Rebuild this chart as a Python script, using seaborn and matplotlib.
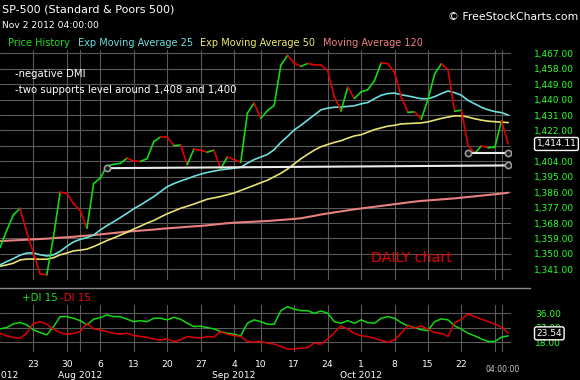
import matplotlib
matplotlib.use("Agg")
import matplotlib.pyplot as plt
import matplotlib.transforms as mtransforms
from matplotlib.collections import LineCollection
from matplotlib.lines import Line2D
import seaborn as sns
import numpy as np
import pandas as pd

# trading days shown on the chart (Oct 29-30 closed)
dates = [
    "2012-07-16", "2012-07-17", "2012-07-18", "2012-07-19", "2012-07-20",
    "2012-07-23", "2012-07-24", "2012-07-25", "2012-07-26", "2012-07-27",
    "2012-07-30", "2012-07-31", "2012-08-01", "2012-08-02", "2012-08-03",
    "2012-08-06", "2012-08-07", "2012-08-08", "2012-08-09", "2012-08-10",
    "2012-08-13", "2012-08-14", "2012-08-15", "2012-08-16", "2012-08-17",
    "2012-08-20", "2012-08-21", "2012-08-22", "2012-08-23", "2012-08-24",
    "2012-08-27", "2012-08-28", "2012-08-29", "2012-08-30", "2012-08-31",
    "2012-09-04", "2012-09-05", "2012-09-06", "2012-09-07",
    "2012-09-10", "2012-09-11", "2012-09-12", "2012-09-13", "2012-09-14",
    "2012-09-17", "2012-09-18", "2012-09-19", "2012-09-20", "2012-09-21",
    "2012-09-24", "2012-09-25", "2012-09-26", "2012-09-27", "2012-09-28",
    "2012-10-01", "2012-10-02", "2012-10-03", "2012-10-04", "2012-10-05",
    "2012-10-08", "2012-10-09", "2012-10-10", "2012-10-11", "2012-10-12",
    "2012-10-15", "2012-10-16", "2012-10-17", "2012-10-18", "2012-10-19",
    "2012-10-22", "2012-10-23", "2012-10-24", "2012-10-25", "2012-10-26",
    "2012-10-31", "2012-11-01", "2012-11-02",
]

close = [
    1353.64, 1363.67, 1372.78, 1376.51, 1362.66, 1350.52, 1338.31, 1337.89, 1360.02, 1385.97,
    1385.30, 1379.32, 1375.32, 1365.00, 1390.99, 1394.23, 1401.35, 1402.22, 1402.80, 1405.87,
    1404.11, 1403.93, 1405.53, 1415.51, 1418.16, 1418.13, 1413.17, 1413.49, 1402.08, 1411.13,
    1410.44, 1409.30, 1410.49, 1399.48, 1406.58, 1404.94, 1403.44, 1432.12, 1437.92, 1429.08,
    1433.56, 1436.56, 1459.99, 1465.77, 1461.19, 1459.32, 1461.05, 1460.26, 1460.15, 1456.89,
    1441.59, 1433.32, 1447.15, 1440.67, 1444.49, 1445.75, 1450.99, 1461.40, 1460.93, 1455.88,
    1441.48, 1432.56, 1432.84, 1428.59, 1440.13, 1454.92, 1460.91, 1457.34, 1433.19, 1433.82,
    1413.11, 1408.75, 1412.97, 1411.94, 1412.16, 1427.59, 1414.11,
]

ema25 = [
    1343.6, 1345.5, 1347.3, 1349.3, 1350.5, 1350.6, 1349.5, 1348.8, 1349.5, 1351.5,
    1354.5, 1357.0, 1358.5, 1359.5, 1361.0, 1364.0, 1366.5, 1368.8, 1371.2, 1373.7,
    1376.3, 1378.5, 1381.0, 1383.4, 1386.3, 1389.2, 1391.0, 1392.5, 1393.8, 1395.3,
    1396.5, 1397.5, 1398.3, 1399.0, 1399.5, 1400.0, 1400.5, 1402.9, 1405.0, 1406.5,
    1408.0, 1410.8, 1415.0, 1418.5, 1422.3, 1425.0, 1428.0, 1431.0, 1434.0, 1435.0,
    1435.5, 1435.7, 1436.0, 1436.4, 1437.5, 1438.3, 1440.5, 1442.5, 1443.5, 1443.8,
    1442.8, 1442.1, 1441.3, 1440.5, 1440.5, 1441.7, 1443.5, 1445.0, 1444.0, 1442.5,
    1439.5, 1437.5, 1435.5, 1434.0, 1433.0, 1432.4, 1431.0,
]

ema50 = [
    1342.8, 1343.6, 1344.6, 1346.5, 1347.0, 1347.0, 1346.9, 1346.9, 1347.8, 1349.5,
    1350.5, 1351.8, 1352.2, 1352.8, 1354.3, 1356.0, 1357.8, 1359.3, 1361.0, 1362.6,
    1364.5, 1366.2, 1368.0, 1369.5, 1371.5, 1373.4, 1375.0, 1376.6, 1377.8, 1379.1,
    1380.5, 1381.9, 1382.7, 1383.5, 1384.5, 1385.5, 1387.0, 1388.5, 1390.0, 1391.5,
    1393.0, 1395.0, 1397.0, 1399.5, 1402.5, 1405.5, 1408.0, 1410.5, 1412.5, 1413.8,
    1415.0, 1416.0, 1417.5, 1418.8, 1419.5, 1421.0, 1422.5, 1423.5, 1424.5, 1425.0,
    1425.8, 1426.0, 1426.2, 1426.4, 1427.0, 1428.0, 1429.0, 1429.8, 1430.5, 1430.5,
    1429.8, 1428.8, 1428.0, 1427.4, 1427.1, 1426.8, 1426.6,
]

ma120 = [
    1357.5, 1357.7, 1357.9, 1358.1, 1358.3, 1358.5, 1358.7, 1358.9, 1359.2, 1359.5,
    1359.7, 1360.0, 1360.4, 1360.7, 1361.0, 1361.4, 1361.8, 1362.2, 1362.6, 1363.0,
    1363.3, 1363.6, 1363.9, 1364.2, 1364.6, 1364.9, 1365.2, 1365.5, 1365.8, 1366.1,
    1366.3, 1366.7, 1367.1, 1367.5, 1367.9, 1368.2, 1368.4, 1368.6, 1368.8, 1369.0,
    1369.2, 1369.5, 1369.8, 1370.1, 1370.4, 1370.8, 1371.5, 1372.2, 1373.0, 1373.6,
    1374.2, 1374.8, 1375.4, 1376.0, 1376.5, 1377.0, 1377.5, 1378.0, 1378.5, 1379.0,
    1379.5, 1380.0, 1380.5, 1380.9, 1381.2, 1381.5, 1381.8, 1382.1, 1382.4, 1382.8,
    1383.2, 1383.6, 1384.0, 1384.4, 1384.8, 1385.2, 1385.7,
]

di_plus = [
    26.3, 27.1, 29.4, 30.2, 28.8, 25.7, 24.0, 22.6, 27.7, 33.9,
    33.9, 32.9, 31.4, 28.8, 32.3, 33.3, 35.0, 33.9, 33.9, 32.3,
    30.8, 31.4, 30.8, 32.9, 32.9, 31.9, 33.5, 32.3, 29.8, 27.7,
    28.0, 27.1, 26.3, 24.6, 23.6, 23.0, 22.0, 29.8, 31.9, 30.8,
    29.2, 29.2, 37.6, 40.1, 38.5, 37.6, 37.6, 36.0, 37.4, 36.0,
    30.8, 29.8, 31.4, 29.8, 31.9, 30.2, 29.8, 32.9, 33.9, 32.9,
    30.2, 28.2, 27.1, 25.7, 25.3, 30.8, 32.5, 31.9, 28.2, 26.1,
    23.6, 22.0, 20.1, 18.5, 18.5, 21.2, 22.0,
]

di_minus = [
    23.6, 22.0, 21.0, 20.6, 23.6, 29.8, 30.8, 29.2, 26.1, 24.0,
    23.0, 23.6, 24.6, 29.8, 26.3, 25.7, 24.6, 23.6, 23.0, 23.6,
    22.2, 21.6, 21.0, 20.0, 19.5, 20.1, 18.5, 19.5, 21.6, 21.0,
    20.6, 21.6, 21.3, 24.6, 23.0, 22.2, 21.6, 18.5, 18.2, 18.5,
    17.5, 16.9, 15.4, 13.8, 13.8, 14.3, 14.8, 17.5, 16.9, 20.0,
    24.0, 28.2, 26.1, 23.6, 22.0, 21.6, 20.6, 19.1, 18.1, 19.5,
    23.6, 28.2, 26.7, 28.2, 26.1, 24.0, 23.6, 21.6, 30.2, 32.3,
    35.6, 33.9, 32.3, 30.8, 29.2, 27.4, 23.54,
]

# drawn support lines
support_long_dates = ["2012-08-07", "2012-11-02"]
support_long = [1400.0, 1401.6]
support_short_dates = ["2012-10-23", "2012-11-02"]
support_short = [1409.0, 1409.0]

price_ticks = [1341, 1350, 1359, 1368, 1377, 1386, 1395, 1404, 1413, 1422, 1431, 1440, 1449, 1458, 1467]
di_ticks = [18, 27, 36]

grid_dates = ["2012-07-23", "2012-07-30", "2012-08-01", "2012-08-06", "2012-08-13", "2012-08-20",
              "2012-08-27", "2012-09-04", "2012-09-10", "2012-09-17", "2012-09-24", "2012-10-01",
              "2012-10-08", "2012-10-15", "2012-10-22", "2012-10-31", "2012-11-01"]
grid_labels = ["23", "30", "", "6", "13", "20", "27", "4", "10", "17", "24", "1", "8", "15", "22", "", ""]
month_dates = ["2012-07-16", "2012-08-01", "2012-09-04", "2012-10-01"]
month_labels = ["Jul 2012", "Aug 2012", "Sep 2012", "Oct 2012"]

df = pd.DataFrame({"date": dates, "close": close, "ema25": ema25, "ema50": ema50,
                   "ma120": ma120, "di_plus": di_plus, "di_minus": di_minus})
df["i"] = np.arange(len(df))
pos = {d: i for i, d in enumerate(dates)}

GREEN = "#14d814"
RED = "#e00000"
CYAN = "#6edede"
YELLOW = "#e8e274"
SALMON = "#e88080"
LABEL_GREEN = "#2bff2b"
GRID = "#5a5a5a"

sns.set_theme(style="dark", rc={"axes.facecolor": "black", "figure.facecolor": "black"})
plt.rcParams["font.family"] = ["DejaVu Sans"]

W, H = 580, 380
PT = 72 / 100  # points per pixel at dpi 100
fig = plt.figure(figsize=(W / 100, H / 100), dpi=100, facecolor="black")


def fx(x):
    return x / W


def fy(y):
    return 1 - y / H


ax = fig.add_axes([0, fy(280), fx(511), 230 / H])
ax2 = fig.add_axes([0, fy(352), fx(511), 47 / H])

grid_idx = [pos[d] for d in grid_dates]

for a in (ax, ax2):
    a.set_facecolor("black")
    for s in a.spines.values():
        s.set_visible(False)
    a.set_xlim(0.0, 76.42)
    a.set_xticks(grid_idx)
    a.grid(True, color=GRID, lw=0.8)
    a.tick_params(axis="both", length=0)
    a.yaxis.tick_right()

# ---- price panel ----
sns.lineplot(data=df, x="i", y="ma120", ax=ax, color=SALMON, lw=1.5, legend=False)
sns.lineplot(data=df, x="i", y="ema50", ax=ax, color=YELLOW, lw=1.2, legend=False)
sns.lineplot(data=df, x="i", y="ema25", ax=ax, color=CYAN, lw=1.2, legend=False)

xs = df["i"].to_numpy(dtype=float)
ys = df["close"].to_numpy()
segs = np.stack([np.column_stack([xs[:-1], ys[:-1]]), np.column_stack([xs[1:], ys[1:]])], axis=1)
seg_colors = np.where(np.diff(ys) >= 0, GREEN, RED)
ax.add_collection(LineCollection(segs, colors=seg_colors, linewidths=1.2, capstyle="round", zorder=3))

for sd, sv in ((support_long_dates, support_long), (support_short_dates, support_short)):
    ax.plot([pos[d] for d in sd], sv, color="#ececec", lw=1.5, zorder=4,
            marker="o", markersize=4.5, markerfacecolor="#1a1a1a", markeredgecolor="#9a9a9a",
            markeredgewidth=1.2)

ax.set_ylim(1334.8, 1468.9)
ax.set_yticks(price_ticks)
# 1,413.00 sits under the last-price tag
ax.set_yticklabels(["" if v == 1413 else f"{v:,.2f}" for v in price_ticks])
ax.tick_params(axis="y", labelright=True, labelleft=False, pad=23 * PT, labelcolor=LABEL_GREEN, labelsize=6.5)
ax.set_xticklabels([])
ax.set_xlabel("")
ax.set_ylabel("")

trans = mtransforms.blended_transform_factory(ax.transAxes, ax.transData)
ax.text(536.5 / 511, close[-1], f"{close[-1]:,.2f}", transform=trans, ha="left", va="center",
        color="white", fontsize=6.5, clip_on=False, zorder=6,
        bbox=dict(boxstyle="round,pad=0.22", fc="black", ec="white", lw=1.0))

fig.text(fx(411), fy(258), "DAILY chart", color="#e80000", fontsize=10.3, ha="center", va="center")

# ---- DI panel ----
sns.lineplot(data=df, x="i", y="di_plus", ax=ax2, color=GREEN, lw=1.1, legend=False)
sns.lineplot(data=df, x="i", y="di_minus", ax=ax2, color=RED, lw=1.1, legend=False)
ax2.set_ylim(12.0, 41.1)
ax2.set_yticks(di_ticks)
ax2.set_yticklabels([f"{v:.2f}" for v in di_ticks])
ax2.tick_params(axis="y", labelright=True, labelleft=False, pad=24 * PT, labelcolor=LABEL_GREEN, labelsize=6.5)
ax2.set_xticklabels(grid_labels)
ax2.tick_params(axis="x", labelcolor="white", labelsize=6.6, pad=6)
ax2.set_xlabel("")
ax2.set_ylabel("")

trans2 = mtransforms.blended_transform_factory(ax2.transAxes, ax2.transData)
ax2.text(536.5 / 511, di_minus[-1], f"{di_minus[-1]:.2f}", transform=trans2, ha="left", va="center",
         color="white", fontsize=6.5, clip_on=False, zorder=6,
         bbox=dict(boxstyle="round,pad=0.22", fc="black", ec="white", lw=1.0))

trans_m = mtransforms.blended_transform_factory(ax2.transData, ax2.transAxes)
for d, lab in zip(month_dates, month_labels):
    ax2.text(pos[d], -(375 - 352) / 47, lab, transform=trans_m, ha="center", va="center",
             color="white", fontsize=6.6, clip_on=False)

fig.add_artist(Line2D([0, fx(530)], [fy(288), fy(288)], color="#8a8a8a", lw=1.0))

# ---- header texts ----
fig.text(fx(2), fy(9.5), "SP-500 (Standard & Poors 500)", color="white", fontsize=8.0, ha="left", va="center")
fig.text(fx(2), fy(25), "Nov 2 2012 04:00:00", color="white", fontsize=6.6, ha="left", va="center")
fig.text(fx(578), fy(17), "\u00a9 FreeStockCharts.com", color="white", fontsize=7.8, ha="right", va="center")

legend_items = [(8, "Price History", "#22dd22"), (78, "Exp Moving Average 25", CYAN),
                (200, "Exp Moving Average 50", "#eeea70"), (323, "Moving Average 120", "#f08080")]
for x0, lab, c in legend_items:
    fig.text(fx(x0), fy(43), lab, color=c, fontsize=7.0, ha="left", va="center")

fig.text(fx(15), fy(74), "-negative DMI", color="white", fontsize=7.3, ha="left", va="center")
fig.text(fx(15), fy(90), "-two supports level around 1,408 and 1,400", color="white", fontsize=7.3,
         ha="left", va="center")

fig.text(fx(21.5), fy(298), "+DI 15", color="#22dd22", fontsize=7.4, ha="left", va="center")
fig.text(fx(60), fy(298), "-DI 15", color="#ee1111", fontsize=7.4, ha="left", va="center")
fig.text(fx(503), fy(369), "04:00:00", color="#cccccc", fontsize=5.5, ha="center", va="center")

fig.savefig("out.png", dpi=100, facecolor="black")
